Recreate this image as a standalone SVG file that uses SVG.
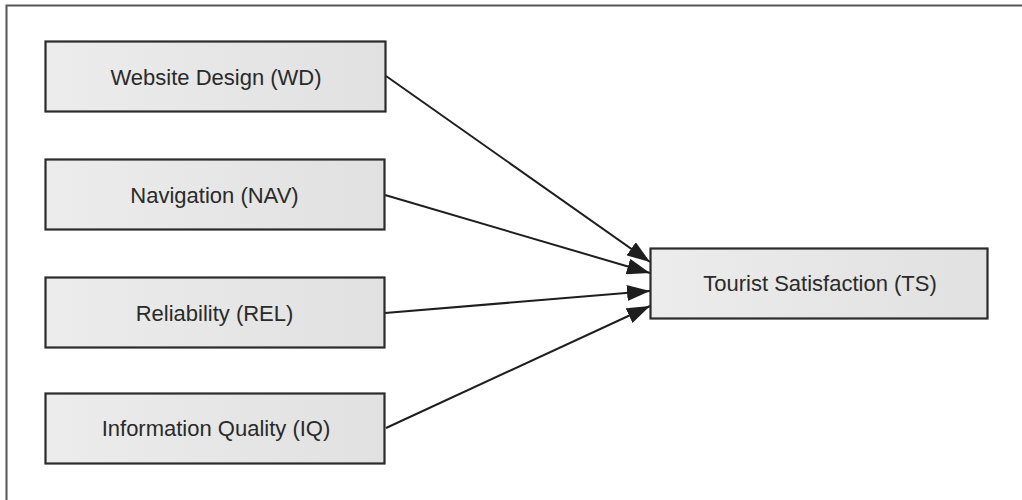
<svg xmlns="http://www.w3.org/2000/svg" width="1022" height="500" viewBox="0 0 1022 500">
  <style>
    .box { fill: url(#boxFill); stroke: #2b2b2b; stroke-width: 2.2; }
    .label { font-family: "Liberation Sans", Arial, sans-serif; font-size: 22px; fill: #2a2a2a; text-anchor: middle; }
    .edge { stroke: #1e1e1e; stroke-width: 2; fill: none; marker-end: url(#head); }
    .frame { stroke: #555; stroke-width: 2; fill: none; }
  </style>
  <defs>
    <linearGradient id="boxFill" x1="0" y1="0" x2="1" y2="0">
      <stop offset="0" stop-color="#ececec"/>
      <stop offset="1" stop-color="#e1e1e2"/>
    </linearGradient>
    <marker id="head" markerUnits="userSpaceOnUse" markerWidth="24" markerHeight="16" refX="23" refY="8" orient="auto">
      <path d="M0,0 L23,8 L0,16 Z" fill="#1e1e1e"/>
    </marker>
  </defs>

  <!-- page frame -->
  <path class="frame" d="M6.5,500 V5.5 H1022"/>

  <g id="connectors">
    <line class="edge" x1="386" y1="76" x2="650" y2="262"/>
    <line class="edge" x1="385" y1="195" x2="650" y2="273"/>
    <line class="edge" x1="385" y1="313" x2="650" y2="291"/>
    <line class="edge" x1="386" y1="428" x2="650" y2="306"/>
  </g>

  <g id="node-wd">
    <rect class="box" x="45.5" y="41.5" width="340" height="70"/>
    <text class="label" x="216" y="85">Website Design (WD)</text>
  </g>
  <g id="node-nav">
    <rect class="box" x="45.5" y="159.5" width="339" height="70"/>
    <text class="label" x="214.5" y="203">Navigation (NAV)</text>
  </g>
  <g id="node-rel">
    <rect class="box" x="45.5" y="277.5" width="339" height="70"/>
    <text class="label" x="214.5" y="321">Reliability (REL)</text>
  </g>
  <g id="node-iq">
    <rect class="box" x="45.5" y="393.5" width="339" height="70"/>
    <text class="label" x="216" y="436">Information Quality (IQ)</text>
  </g>
  <g id="node-ts">
    <rect class="box" x="650.5" y="248.5" width="337" height="70"/>
    <text class="label" x="820" y="291">Tourist Satisfaction (TS)</text>
  </g>
</svg>
